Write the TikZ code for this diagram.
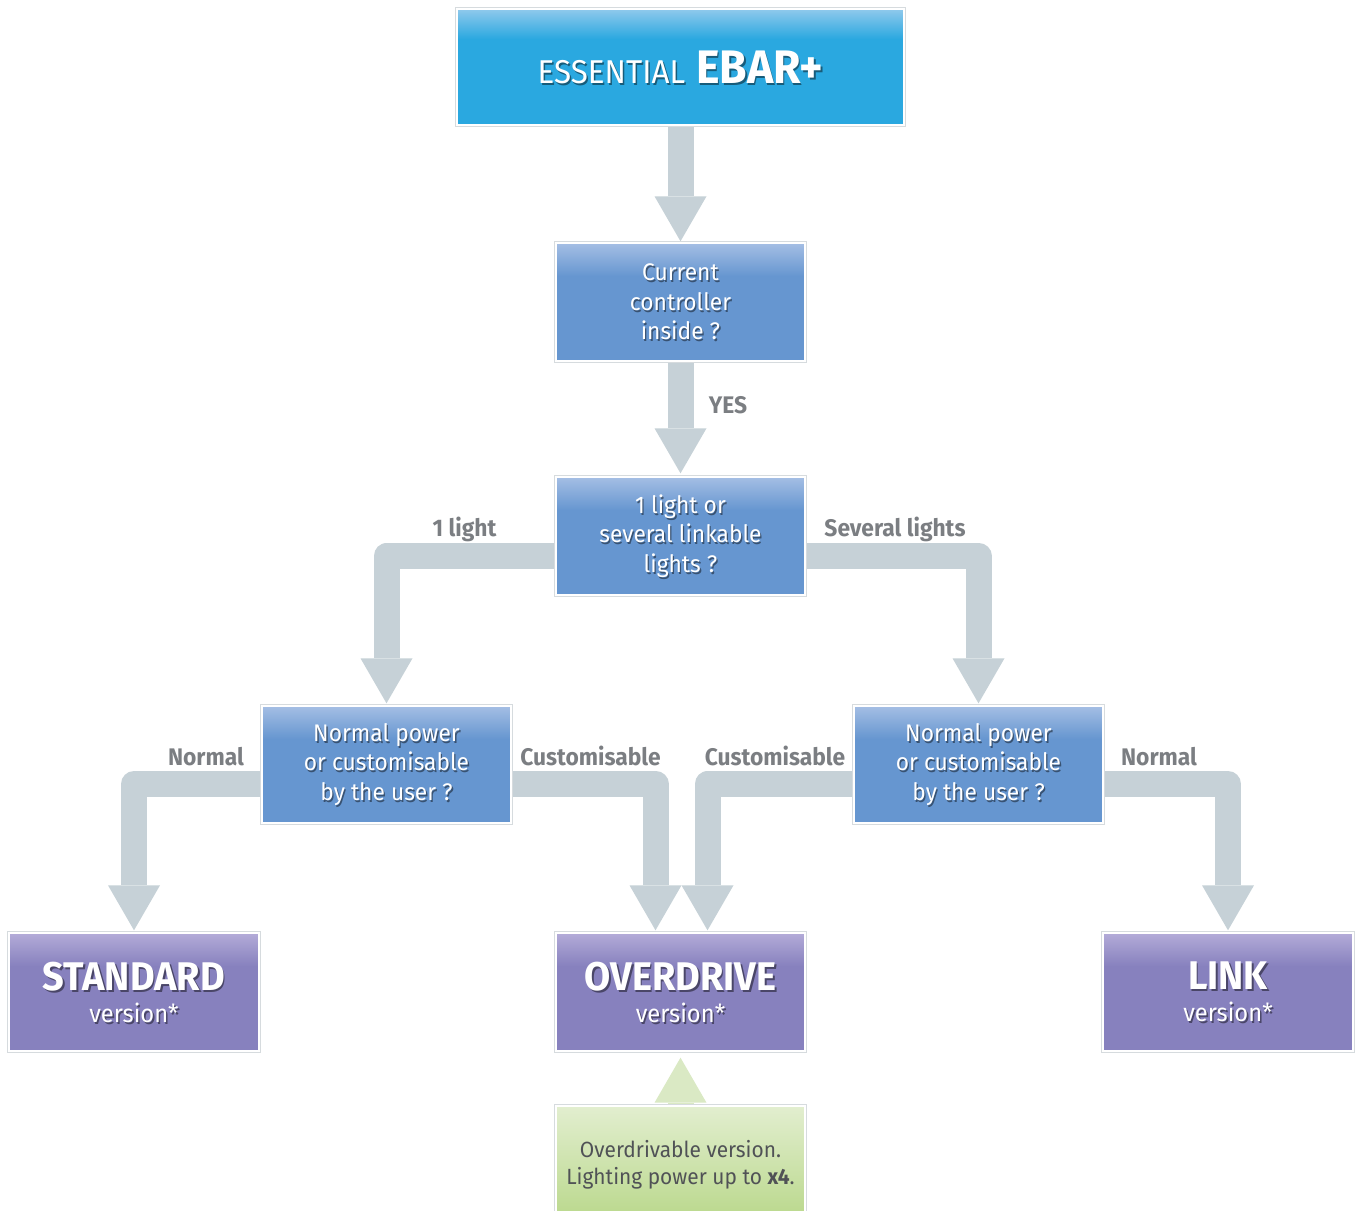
\documentclass[tikz,border=0pt]{standalone}
\usepackage{fontspec}
\setmainfont{Fira Sans}[FakeStretch=0.95]
\usetikzlibrary{arrows.meta,calc}
\pgfdeclarelayer{bg}
\pgfdeclarelayer{fills}
\pgfdeclarelayer{shadows}
\pgfsetlayers{bg,fills,shadows,main}
\definecolor{arw}{HTML}{C6D1D7}
\definecolor{bord}{HTML}{D6DBDE}
\definecolor{topmain}{HTML}{2AA8E0}
\definecolor{toplight}{HTML}{90C9EC}
\definecolor{qmain}{HTML}{6696D0}
\definecolor{qlight}{HTML}{A4BEE4}
\definecolor{pmain}{HTML}{8781BE}
\definecolor{plight}{HTML}{B3ABD8}
\definecolor{gtop}{HTML}{E2EECF}
\definecolor{gbot}{HTML}{B8D789}
\definecolor{lbl}{HTML}{7B7E82}
\definecolor{gtext}{HTML}{505256}
\definecolor{garw}{HTML}{DAE9C4}
\pgfdeclareverticalshading{topshade}{100bp}{color(0bp)=(topmain); color(25bp)=(topmain); color(62bp)=(topmain); color(75bp)=(toplight); color(100bp)=(toplight)}
\pgfdeclareverticalshading{qshade}{100bp}{color(0bp)=(qmain); color(25bp)=(qmain); color(61bp)=(qmain); color(75bp)=(qlight); color(100bp)=(qlight)}
\pgfdeclareverticalshading{pshade}{100bp}{color(0bp)=(pmain); color(25bp)=(pmain); color(61bp)=(pmain); color(75bp)=(plight); color(100bp)=(plight)}
\pgfdeclareverticalshading{gshade}{100bp}{color(0bp)=(gbot); color(25bp)=(gbot); color(75bp)=(gtop); color(100bp)=(gtop)}
\newcommand\qf{\fontsize{24}{29.5}\selectfont}
\newcommand\bigf{\fontsize{40}{32}\selectfont\bfseries}
\newcommand\verf{\fontsize{25}{32}\selectfont}
\newcommand\toptext{{\fontsize{33}{33}\selectfont ESSENTIAL}\hspace{11pt}{\fontsize{47}{47}\selectfont\bfseries EBAR+}}
% background of a box: border, white gap, shading
\newcommand\boxbg[2]{\path[preaction={draw=bord, line width=4pt}, shading=#2, draw=white, line width=2pt]
  (#1.north west) rectangle (#1.south east);}
\begin{document}
\begin{tikzpicture}[x=1pt,y=-1pt,
  box/.style={minimum width=249pt, minimum height=117pt, inner sep=0pt, align=center},
  qbox/.style={box, text=white, font=\qf},
  fbox/.style={box, minimum width=250pt, text=white, font=\verf},
  shd/.style={text=black, opacity=.45, align=center, inner sep=0pt},
  lab/.style={text=lbl, font=\fontsize{24}{26}\selectfont\bfseries, inner sep=0pt, anchor=base},
  arr/.style={draw=arw, line width=26pt, line join=round, shorten >=3pt,
    -{Triangle[width=52pt,length=45pt,line width=0pt]}}
]
\useasboundingbox (0,0) rectangle (1362,1210);

\node[box, minimum width=447pt, minimum height=116pt, text=white] (top) at (680.5,67) {\toptext};

\node[qbox] (q2) at (680.5,302) {Current\\controller\\inside ?};
\node[qbox] (q3) at (680.5,536) {1 light or\\several linkable\\lights ?};
\node[qbox, minimum height=116pt] (q4l) at (386.5,764.5) {Normal power\\or customisable\\by the user ?};
\node[qbox, minimum height=116pt] (q4r) at (978.5,764.5) {Normal power\\or customisable\\by the user ?};

\node[fbox] (std) at (134,992) {{\bigf STANDARD}\\{\verf version*}};
\node[fbox, minimum width=249pt] (od) at (680.5,992) {{\bigf OVERDRIVE}\\{\verf version*}};
\node[fbox] (link) at (1228,992) {{\bigf LINK}\\{\verf version*}};

\node[box, text=gtext, font=\fontsize{22}{27}\selectfont] (green) at (680.5,1165)
  {Overdrivable version.\\Lighting power up to \textbf{x4}.};

\node[lab] (lyes) at (728,413) {YES};
\node[lab] (l1) at (464.5,536) {1 light};
\node[lab] (lsev) at (895,536) {Several lights};
\node[lab] (lnl) at (206,765) {Normal};
\node[lab] (lcl) at (590.5,765) {Customisable};
\node[lab] (lcr) at (775,765) {Customisable};
\node[lab] (lnr) at (1159,765) {Normal};

\begin{pgfonlayer}{shadows}
\node[shd] (tops) at ([shift={(1.5pt,-2pt)}]top.center) {\toptext};
\node[shd, font=\qf] (q2s) at ([shift={(1.3pt,-1.8pt)}]q2.center) {Current\\controller\\inside ?};
\node[shd, font=\qf] (q3s) at ([shift={(1.3pt,-1.8pt)}]q3.center) {1 light or\\several linkable\\lights ?};
\node[shd, font=\qf] (q4ls) at ([shift={(1.3pt,-1.8pt)}]q4l.center) {Normal power\\or customisable\\by the user ?};
\node[shd, font=\qf] (q4rs) at ([shift={(1.3pt,-1.8pt)}]q4r.center) {Normal power\\or customisable\\by the user ?};
\node[shd, font=\verf] (stds) at ([shift={(1.6pt,-2.2pt)}]std.center) {{\bigf STANDARD}\\{\verf version*}};
\node[shd, font=\verf] (ods) at ([shift={(1.6pt,-2.2pt)}]od.center) {{\bigf OVERDRIVE}\\{\verf version*}};
\node[shd, font=\verf] (links) at ([shift={(1.6pt,-2.2pt)}]link.center) {{\bigf LINK}\\{\verf version*}};
\end{pgfonlayer}

\begin{pgfonlayer}{fills}
\boxbg{top}{topshade}
\boxbg{q2}{qshade}
\boxbg{q3}{qshade}
\boxbg{q4l}{qshade}
\boxbg{q4r}{qshade}
\boxbg{std}{pshade}
\boxbg{od}{pshade}
\boxbg{link}{pshade}
\boxbg{green}{gshade}
\end{pgfonlayer}

\begin{pgfonlayer}{bg}
\fill[white] (0,0) rectangle (1362,1210);
\draw[arr, shorten >=2pt] (top.south) -- (q2.north);
\draw[arr, shorten >=4pt] (q2.south) -- (q3.north);
\draw[arr] ([yshift=-20pt]q3.west) -| (q4l.north);
\draw[arr] ([yshift=-20pt]q3.east) -| (q4r.north);
\draw[arr] ([yshift=-19.5pt]q4l.west) -| (std.north);
\draw[arr] ([yshift=-19.5pt]q4l.east) -| ([xshift=-25pt]od.north);
\draw[arr] ([yshift=-19.5pt]q4r.west) -| ([xshift=27pt]od.north);
\draw[arr] ([yshift=-19.5pt]q4r.east) -| (link.north);
\draw[arr, draw=garw, shorten >=7pt] (green.north) -- (od.south);
\end{pgfonlayer}
\end{tikzpicture}
\end{document}
